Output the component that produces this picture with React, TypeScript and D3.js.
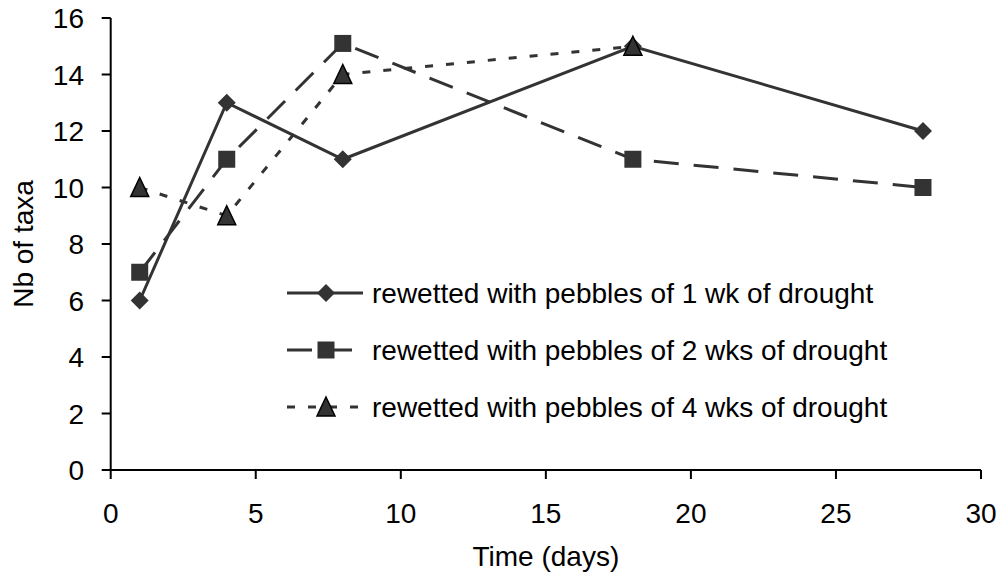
import React from "react";
import * as d3 from "d3";

const days1 = [1, 4, 8, 18, 28];
const taxa1 = [6, 13, 11, 15, 12];
const days2 = [1, 4, 8, 18, 28];
const taxa2 = [7, 11, 15.1, 11, 10];
const days3 = [1, 4, 8, 18];
const taxa3 = [10, 9, 14, 15];
const xTicks = [0, 5, 10, 15, 20, 25, 30];
const yTicks = [0, 2, 4, 6, 8, 10, 12, 14, 16];
const seriesNames = [
  "rewetted with pebbles of 1 wk of drought",
  "rewetted with pebbles of 2 wks of drought",
  "rewetted with pebbles of 4 wks of drought",
];
const xTitle = "Time (days)";
const yTitle = "Nb of taxa";

const W = 1002;
const H = 576;
const COLOR = "#333333";
const FONT = "'Liberation Sans', Arial, sans-serif";
const FS = 28;

const x = d3.scaleLinear().domain([0, 30]).range([110.7, 981]);
const y = d3.scaleLinear().domain([0, 16]).range([470, 18]);

type Pt = [number, number];
const zip = (a: number[], b: number[]): Pt[] => a.map((d, i) => [d, b[i]]);

const series = [
  { name: seriesNames[0], pts: zip(days1, taxa1), dash: "none", marker: "diamond" },
  { name: seriesNames[1], pts: zip(days2, taxa2), dash: "25,15", marker: "square" },
  { name: seriesNames[2], pts: zip(days3, taxa3), dash: "8,13", marker: "triangle" },
];

function Marker({ type, cx, cy }: { type: string; cx: number; cy: number }) {
  if (type === "diamond") {
    const r = 9;
    return (
      <path
        d={`M${cx},${cy - r}L${cx + r},${cy}L${cx},${cy + r}L${cx - r},${cy}Z`}
        fill={COLOR}
      />
    );
  }
  if (type === "square") {
    const s = 17;
    return <rect x={cx - s / 2} y={cy - s / 2} width={s} height={s} fill={COLOR} />;
  }
  const h = 18;
  const w = 18;
  return (
    <path
      d={`M${cx},${cy - h / 2 - 1}L${cx + w / 2},${cy + h / 2}L${cx - w / 2},${cy + h / 2}Z`}
      fill={COLOR}
      stroke="#000"
      strokeWidth={1.5}
      strokeLinejoin="miter"
    />
  );
}

export default function App() {
  const line = d3
    .line<Pt>()
    .x((d) => x(d[0]))
    .y((d) => y(d[1]));

  const legendX0 = 287;
  const legendMarkerX = 326;
  const legendTextX = 372;
  const legendRows = [293, 350, 407];
  const legendEnds = [363, 353, 358];

  return (
    <svg
      width={W}
      height={H}
      style={{ position: "absolute", left: 0, top: 0, display: "block", background: "#fff" }}
      fontFamily={FONT}
    >
      {/* axes */}
      <line x1={x(0)} x2={x(0)} y1={y(16)} y2={y(0)} stroke="#000" strokeWidth={2} />
      <line x1={x(0) - 1} x2={x(30)} y1={y(0)} y2={y(0)} stroke="#000" strokeWidth={2} />
      {yTicks.map((t) => (
        <g key={"yt" + t}>
          <line x1={x(0) - 9} x2={x(0)} y1={y(t)} y2={y(t)} stroke="#000" strokeWidth={2} />
          <text x={84} y={y(t) + 10} textAnchor="end" fontSize={FS} fill="#000">
            {t}
          </text>
        </g>
      ))}
      {xTicks.map((t) => (
        <g key={"xt" + t}>
          <line x1={x(t)} x2={x(t)} y1={y(0)} y2={y(0) + 9} stroke="#000" strokeWidth={2} />
          <text x={x(t)} y={523} textAnchor="middle" fontSize={FS} fill="#000">
            {t}
          </text>
        </g>
      ))}
      <text x={(x(0) + x(30)) / 2} y={566} textAnchor="middle" fontSize={FS} fill="#000">
        {xTitle}
      </text>
      <text
        transform={`translate(33, ${(y(0) + y(16)) / 2}) rotate(-90)`}
        textAnchor="middle"
        fontSize={FS}
        fill="#000"
      >
        {yTitle}
      </text>

      {/* lines */}
      {series.map((s, i) => (
        <path
          key={"l" + i}
          d={line(s.pts) || ""}
          fill="none"
          stroke={COLOR}
          strokeWidth={3}
          strokeDasharray={s.dash}
        />
      ))}
      {/* markers */}
      {series.map((s, i) => (
        <g key={"m" + i}>
          {s.pts.map((p, j) => (
            <Marker key={j} type={s.marker} cx={x(p[0])} cy={y(p[1])} />
          ))}
        </g>
      ))}

      {/* legend */}
      {series.map((s, i) => (
        <g key={"lg" + i}>
          <line
            x1={legendX0}
            x2={legendEnds[i]}
            y1={legendRows[i]}
            y2={legendRows[i]}
            stroke={COLOR}
            strokeWidth={3}
            strokeDasharray={s.dash}
          />
          <Marker type={s.marker} cx={legendMarkerX} cy={legendRows[i]} />
          <text x={legendTextX} y={legendRows[i] + 9.5} fontSize={FS} fill="#000">
            {s.name}
          </text>
        </g>
      ))}
    </svg>
  );
}
